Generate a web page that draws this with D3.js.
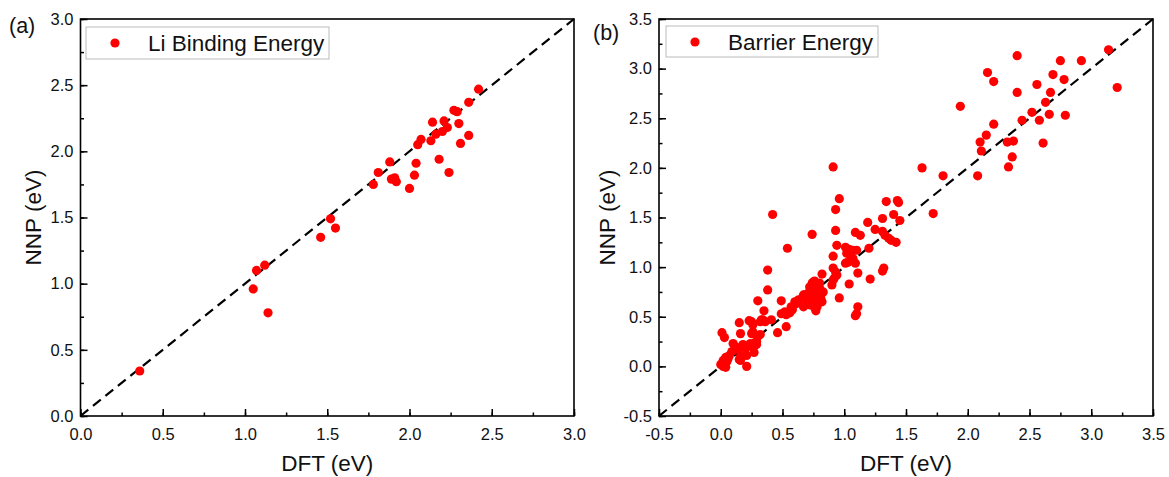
<!DOCTYPE html>
<html><head><meta charset="utf-8">
<script src="https://cdn.jsdelivr.net/npm/d3@7"></script>
<style>body{margin:0;background:#fff}svg{display:block}text{font-family:"Liberation Sans",Arial,sans-serif}</style>
</head><body><svg id="c" width="1169" height="477"></svg>
<script>
// Panel (a): Li binding energy [DFT, NNP]
const liDFT = [0.36,1.05,1.07,1.12,1.14,1.46,1.52,1.55,1.78,1.81,1.88,1.89,1.91,1.92,2.00,2.03,2.04,2.05,2.07,2.13,2.14,2.16,2.18,2.20,2.21,2.23,2.24,2.27,2.29,2.30,2.31,2.36,2.36,2.42];
const liNNP = [0.34,0.96,1.10,1.14,0.78,1.35,1.49,1.42,1.75,1.84,1.92,1.79,1.80,1.77,1.72,1.82,1.91,2.05,2.09,2.08,2.22,2.13,1.94,2.15,2.23,2.18,1.84,2.31,2.30,2.21,2.06,2.37,2.12,2.47];
// Panel (b): barrier energy [DFT, NNP]
const barrierDFT = [0.00,0.02,0.03,0.04,0.02,0.05,0.06,0.04,0.07,0.09,0.10,0.12,0.14,0.15,0.16,0.16,0.17,0.21,0.18,0.20,0.24,0.25,0.21,0.27,0.29,0.29,0.28,0.01,0.03,0.15,0.16,0.25,0.26,0.25,0.26,0.30,0.32,0.33,0.36,0.35,0.41,0.32,0.23,0.34,
0.30,0.46,0.53,0.49,0.52,0.53,0.49,0.56,0.58,0.57,0.60,0.61,0.63,0.62,0.66,0.67,0.68,0.70,0.72,0.67,0.71,0.74,0.75,0.76,0.77,0.76,0.78,0.76,0.74,0.72,0.75,0.76,0.78,0.80,0.79,0.83,0.80,0.81,0.82,0.74,0.80,0.82,0.90,0.91,0.92,0.91,0.93,0.94,0.96,0.91,0.94,0.93,0.93,0.96,0.91,0.74,0.54,0.42,0.38,0.38,
1.01,1.04,1.07,1.10,1.02,1.05,1.07,1.03,1.09,1.01,1.06,1.04,1.11,1.09,1.13,1.09,1.10,1.11,1.19,1.25,1.20,1.21,
1.31,1.34,1.43,1.44,1.40,1.45,1.31,1.33,1.36,1.38,1.42,1.32,1.31,
1.63,1.72,1.80,1.94,2.08,
2.10,2.11,2.15,2.16,2.21,2.21,2.32,2.37,2.36,2.33,2.40,2.40,2.44,2.52,2.56,2.58,2.61,2.63,2.66,2.67,2.69,2.75,2.78,2.79,2.92,3.14,3.21];
const barrierNNP = [0.02,0.00,0.01,-0.01,0.06,0.05,0.08,0.09,0.11,0.15,0.23,0.20,0.17,0.07,0.10,0.06,0.10,0.11,0.22,0.18,0.23,0.20,0.00,0.14,0.22,0.25,0.24,0.34,0.29,0.44,0.33,0.33,0.35,0.45,0.42,0.30,0.32,0.47,0.45,0.56,0.47,0.45,0.46,0.47,
0.66,0.34,0.40,0.53,0.55,0.52,0.66,0.54,0.57,0.60,0.65,0.63,0.67,0.65,0.69,0.72,0.72,0.65,0.62,0.60,0.74,0.72,0.66,0.62,0.56,0.59,0.60,0.75,0.77,0.80,0.85,0.86,0.82,0.79,0.72,0.75,0.70,0.69,0.65,0.84,0.84,0.93,0.82,0.87,0.89,0.99,0.95,0.92,0.69,1.11,1.22,1.37,1.58,1.69,2.01,1.33,1.19,1.53,0.97,0.77,
1.20,1.18,1.17,1.17,1.14,1.12,1.09,1.05,1.04,1.04,1.07,0.83,0.94,1.35,1.32,0.51,0.53,0.60,1.45,1.38,1.19,0.88,
1.49,1.66,1.67,1.65,1.53,1.47,1.36,1.32,1.29,1.27,1.25,0.99,0.96,
2.00,1.54,1.92,2.62,1.92,
2.26,2.17,2.33,2.96,2.87,2.44,2.26,2.27,2.11,2.01,3.13,2.76,2.48,2.56,2.84,2.48,2.25,2.66,2.54,2.76,2.94,3.08,2.89,2.53,3.08,3.19,2.81];
const ticksA = [0.0,0.5,1.0,1.5,2.0,2.5,3.0];
const ticksB = [-0.5,0.0,0.5,1.0,1.5,2.0,2.5,3.0,3.5];

const svg = d3.select("#c");
const fmt = v => v.toFixed(1);

function panel(o){
  const g = svg.append("g");
  const x = d3.scaleLinear().domain(o.domain).range([o.left, o.right]);
  const y = d3.scaleLinear().domain(o.domain).range([o.bottom, o.top]);
  const minor = d3.range(o.domain[0], o.domain[1]+1e-9, 0.25);
  // minor ticks
  g.append("g").attr("transform",`translate(0,${o.bottom})`)
    .call(d3.axisBottom(x).tickValues(minor).tickSize(-3.5).tickFormat(""))
    .call(s=>s.select(".domain").remove()).selectAll("line").attr("stroke-width",1.5);
  g.append("g").attr("transform",`translate(${o.left},0)`)
    .call(d3.axisLeft(y).tickValues(minor).tickSize(-3.5).tickFormat(""))
    .call(s=>s.select(".domain").remove()).selectAll("line").attr("stroke-width",1.5);
  // major ticks
  const xa = g.append("g").attr("transform",`translate(0,${o.bottom})`)
    .call(d3.axisBottom(x).tickValues(o.ticks).tickSize(-7).tickPadding(12).tickFormat(fmt));
  xa.select(".domain").remove();
  xa.selectAll("line").attr("stroke-width",1.5);
  xa.selectAll("text").attr("font-size",16.5).attr("fill","#111");
  const ya = g.append("g").attr("transform",`translate(${o.left},0)`)
    .call(d3.axisLeft(y).tickValues(o.ticks).tickSize(-7).tickPadding(7).tickFormat(fmt));
  ya.select(".domain").remove();
  ya.selectAll("line").attr("stroke-width",1.5);
  ya.selectAll("text").attr("font-size",16.5).attr("fill","#111");
  // frame
  g.append("rect").attr("x",o.left).attr("y",o.top).attr("width",o.right-o.left).attr("height",o.bottom-o.top)
    .attr("fill","none").attr("stroke","#000").attr("stroke-width",1.6);
  // diagonal
  g.append("line").attr("x1",x(o.domain[0])).attr("y1",y(o.domain[0])).attr("x2",x(o.domain[1])).attr("y2",y(o.domain[1]))
    .attr("stroke","#000").attr("stroke-width",2.2).attr("stroke-dasharray","10,6");
  // points
  g.append("g").selectAll("circle").data(o.xs.map((v,i)=>[v,o.ys[i]])).join("circle")
    .attr("cx",d=>x(d[0])).attr("cy",d=>y(d[1])).attr("r",4.6).attr("fill","#ff0000");
  // legend
  g.append("rect").attr("x",o.leg[0]).attr("y",o.leg[1]).attr("width",o.leg[2]).attr("height",o.leg[3])
    .attr("fill","#fff").attr("stroke","#bbb").attr("stroke-width",1);
  g.append("circle").attr("cx",o.leg[0]+29).attr("cy",o.leg[1]+16).attr("r",4.6).attr("fill","#ff0000");
  g.append("text").attr("x",o.leg[0]+62).attr("y",o.leg[1]+24).attr("font-size",22.5).attr("fill","#111").text(o.name);
  // axis titles
  g.append("text").attr("x",(o.left+o.right)/2).attr("y",471).attr("text-anchor","middle").attr("font-size",22.5).attr("fill","#111").text("DFT (eV)");
  g.append("text").attr("transform",`translate(${o.left-o.yoff},${(o.top+o.bottom)/2}) rotate(-90)`).attr("text-anchor","middle").attr("font-size",22.5).attr("fill","#111").text("NNP (eV)");
  g.append("text").attr("x",o.lab[0]).attr("y",o.lab[1]).attr("font-size",21.5).attr("fill","#111").text(o.label);
}

panel({left:80.5,right:574,top:19,bottom:416,domain:[0,3],ticks:ticksA,xs:liDFT,ys:liNNP,yoff:40,
  leg:[86,27,243,32],name:"Li Binding Energy",label:"(a)",lab:[9,33]});
panel({left:659,right:1153,top:19,bottom:416,domain:[-0.5,3.5],ticks:ticksB,xs:barrierDFT,ys:barrierNNP,yoff:44,
  leg:[666,26,212,31],name:"Barrier Energy",label:"(b)",lab:[593,40]});
</script></body></html>
